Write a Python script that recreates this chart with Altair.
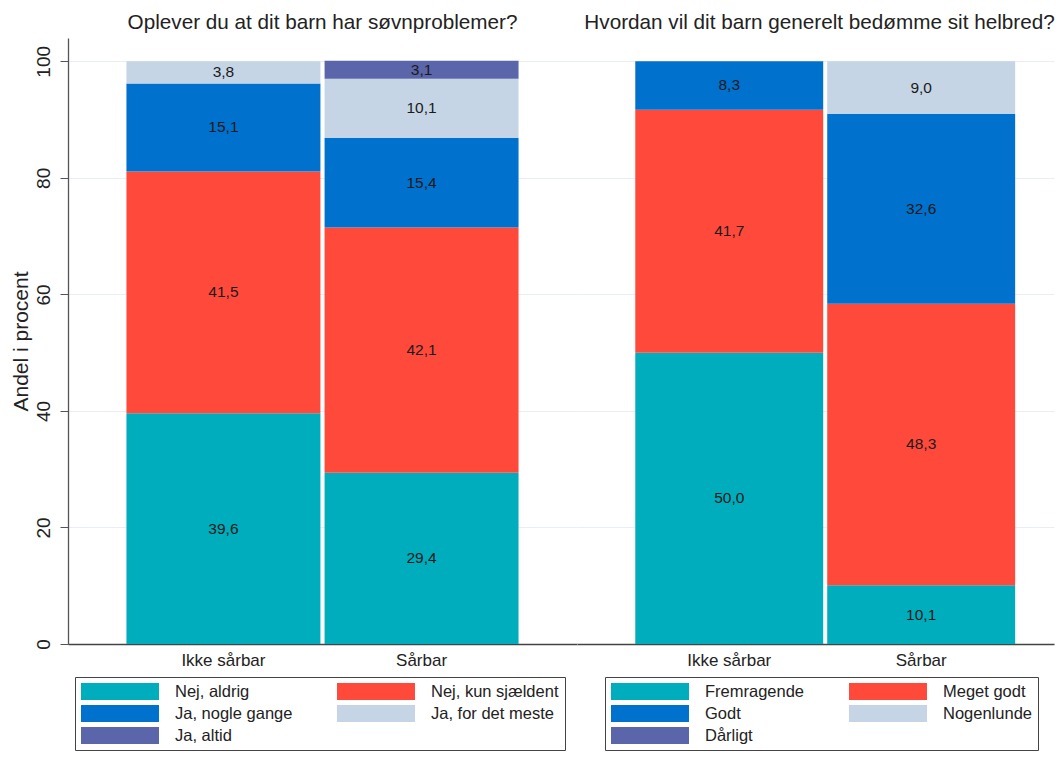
import altair as alt
import pandas as pd

groups = ["Ikke sårbar", "Sårbar"]

sleep_title = "Oplever du at dit barn har søvnproblemer?"
sleep_cats = ["Nej, aldrig", "Nej, kun sjældent", "Ja, nogle gange", "Ja, for det meste", "Ja, altid"]
sleep_ikke = [39.6, 41.5, 15.1, 3.8, 0.0]
sleep_sarbar = [29.4, 42.1, 15.4, 10.1, 3.1]

health_title = "Hvordan vil dit barn generelt bedømme sit helbred?"
health_cats = ["Fremragende", "Meget godt", "Godt", "Nogenlunde", "Dårligt"]
health_ikke = [50.0, 41.7, 8.3, 0.0, 0.0]
health_sarbar = [10.1, 48.3, 32.6, 9.0, 0.0]

colors = ["#00adbd", "#ff4a3b", "#0071cd", "#c5d5e5", "#5a65aa"]
y_ticks = [0, 20, 40, 60, 80, 100]

FONT = "Liberation Sans"
PLOT_H = 606
SWATCH = "M-1,-1L8.176,-1L8.176,1L-1,1Z"


def make_df(cats, a, b):
    rows = []
    for g, vals in zip(groups, [a, b]):
        for i, (c, v) in enumerate(zip(cats, vals)):
            rows.append({"group": g, "cat": c, "value": v, "idx": i})
    return pd.DataFrame(rows)


def panel(df, cats, title, width, show_y, pad_outer, align, legend_x, title_dx):
    base = alt.Chart(df).transform_filter("datum.value > 0")
    x_enc = alt.X(
        "group:N",
        sort=groups,
        scale=alt.Scale(paddingInner=0.021, paddingOuter=pad_outer, align=align),
        axis=alt.Axis(
            title=None, ticks=False, labelAngle=0, labelFontSize=17, labelFont=FONT,
            labelColor="#222", labelPadding=8, domainColor="#444", domainWidth=1.3,
        ),
    )
    if show_y:
        y_axis = alt.Axis(
            values=y_ticks, title="Andel i procent", titleFontSize=21, titleFont=FONT,
            titleFontWeight="normal", titleColor="#222", titlePadding=3,
            labelAngle=270, labelAlign="center", labelBaseline="bottom",
            labelFontSize=19, labelFont=FONT, labelColor="#222", labelPadding=7,
            tickSize=8, tickColor="#555", domainColor="#555", domainWidth=1.3,
            grid=True, gridColor="#e9eef6", gridWidth=1,
        )
    else:
        y_axis = alt.Axis(
            values=y_ticks, title=None, labels=False, ticks=False, domain=False,
            grid=True, gridColor="#e9eef6", gridWidth=1,
        )
    y_scale = alt.Scale(domain=[0, 104], nice=False)
    color = alt.Color(
        "cat:N",
        scale=alt.Scale(domain=cats, range=colors),
        legend=alt.Legend(
            title=None, orient="none", legendX=legend_x, legendY=PLOT_H + 33,
            direction="horizontal", columns=2,
            symbolType=SWATCH, symbolSize=289,
            symbolStrokeWidth=0, symbolOpacity=1,
            labelFontSize=16.5, labelFont=FONT, labelColor="#222", labelLimit=400,
            labelOffset=77, columnPadding=44, rowPadding=5,
            strokeColor="#444", fillColor="white", padding=6,
        ),
    )
    bars = base.mark_bar(strokeWidth=0).encode(
        x=x_enc,
        y=alt.Y("value:Q", stack="zero", scale=y_scale, axis=y_axis),
        color=color,
        order=alt.Order("idx:Q", sort="ascending"),
    )
    text = base.transform_stack(
        stack="value", groupby=["group"],
        sort=[alt.SortField("idx", order="ascending")], as_=["v0", "v1"],
    ).transform_calculate(
        mid="(datum.v0 + datum.v1) / 2",
        lab="replace(format(datum.value, '.1f'), '.', ',')",
    ).mark_text(fontSize=15.5, font=FONT, color="#1a1a1a").encode(
        x=alt.X("group:N", sort=groups),
        y=alt.Y("mid:Q", scale=y_scale),
        text="lab:N",
    )
    return alt.layer(bars, text).properties(
        width=width, height=PLOT_H,
        title=alt.TitleParams(
            title, fontSize=20.7, font=FONT, fontWeight="normal", color="#222",
            offset=4, anchor="middle", dx=title_dx,
        ),
    )


left = panel(make_df(sleep_cats, sleep_ikke, sleep_sarbar), sleep_cats, sleep_title,
             509, True, 0.295, 0.5, 7, 0)
right = panel(make_df(health_cats, health_ikke, health_sarbar), health_cats, health_title,
              477, False, 0.253, 0.6, 28, 4)

chart = alt.hconcat(left, right, spacing=0).resolve_scale(
    color="independent", x="independent", y="independent"
).properties(
    padding={"left": 2, "top": 4, "right": 0, "bottom": 0},
    background="white",
).configure_view(stroke=None)

chart.save("out.html", embed_options={"renderer": "svg", "actions": False})
